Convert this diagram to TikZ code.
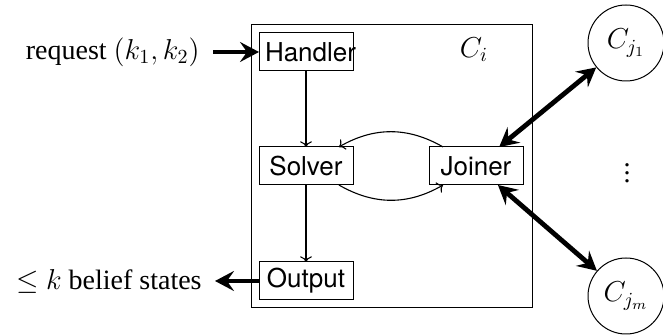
\documentclass[tikz,border=0pt]{standalone}
\usepackage{fontspec}
\setmainfont{Liberation Serif}
\setsansfont{TeX Gyre Heros}
\usetikzlibrary{arrows.meta}
\begin{document}
\begin{tikzpicture}[x=0.5pt,y=-0.5pt,
  box/.style={draw, line width=0.5pt, font=\sffamily\fontsize{13}{15}\selectfont, text width=41pt, align=center, minimum height=19pt, inner sep=3pt, outer sep=0pt},
  lbl/.style={font=\fontsize{14}{17}\selectfont, inner ysep=2pt, inner xsep=6.5pt},
  cnode/.style={draw, circle, line width=0.5pt, minimum size=38pt, inner sep=0pt, font=\fontsize{14}{17}\selectfont},
  big/.style={line width=2.4pt, >={Stealth[length=9.5pt, width=10pt, inset=3.5pt]}},
  thinarrow/.style={line width=0.55pt, ->}]
\useasboundingbox (0,0) rectangle (663,335);
\draw[line width=0.5pt] (251,25) rectangle (532,308);
\node[font=\fontsize{14}{17}\selectfont] (cilabel) at (474,50) {$C_i$};
\node[box] (handler) at (306,52) {Handler};
\node[box] (solver) at (306,166) {Solver};
\node[box] (output) at (306,281) {Output};
\node[box] (joiner) at (476,166) {Joiner};
\node[lbl, anchor=east] (req) at (213,52) {request $(k_1, k_2)$};
\node[lbl, anchor=east] (bel) at (215,281) {$\leq$ $k$ belief states};
\node[cnode] (cj1) at (626,43) {$C_{j_1}$};
\node[cnode] (cjm) at (626,296) {$C_{j_m}$};
\node[font=\fontsize{14}{17}\selectfont] (dots) at (627,167) {$\vdots$};
\draw[thinarrow] (handler) -- (solver);
\draw[thinarrow] (solver) -- (output);
\draw[thinarrow] (joiner) to[bend right] (solver);
\draw[thinarrow] (solver) to[bend right] (joiner);
\draw[big, ->] (req) -- (handler);
\draw[big, ->] (output) -- (bel);
\draw[big, <->] (joiner) -- (cj1);
\draw[big, <->] (joiner) -- (cjm);
\end{tikzpicture}
\end{document}
